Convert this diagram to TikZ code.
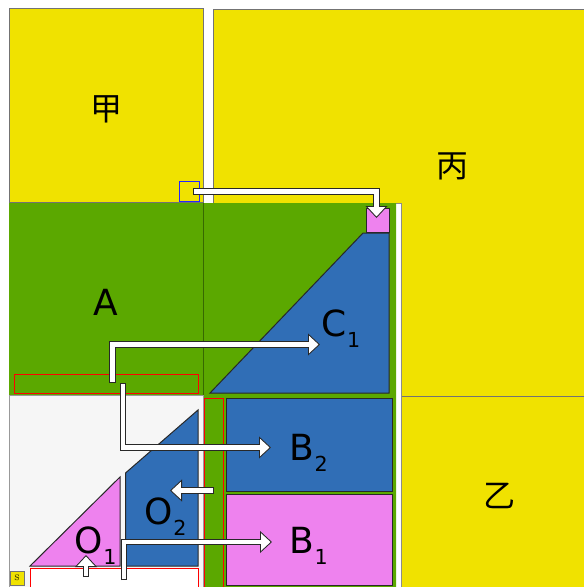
\documentclass[tikz,border=0pt]{standalone}
\usepackage{fontspec}
\setsansfont{DejaVu Sans}
\newfontfamily\cjk{Noto Sans CJK SC}
\usetikzlibrary{arrows.meta,calc}
\definecolor{ylw}{RGB}{240,226,0}
\definecolor{grn}{RGB}{91,168,0}
\definecolor{dgrn}{RGB}{55,105,0}
\definecolor{blu}{RGB}{48,110,182}
\definecolor{pnk}{RGB}{238,130,238}
\definecolor{pale}{RGB}{246,246,246}
\definecolor{edge}{RGB}{40,40,40}
\newcommand{\lblsub}[2]{#1\kern0.5pt\raisebox{-8.5pt}{\fontsize{15.5}{15.5}\selectfont #2}}

\begin{document}
\begin{tikzpicture}[x=0.75pt, y=-0.75pt,
  ybox/.style={fill=ylw, draw=black!55, line width=0.6pt},
  part/.style={draw=edge, line width=0.75pt},
  redbox/.style={draw=red, line width=0.75pt},
  han/.style={font=\cjk\fontsize{24}{24}\selectfont, inner sep=0pt},
  lbl/.style={font=\sffamily\fontsize{27}{27}\selectfont, inner sep=0pt},
  sublbl/.style={lbl, anchor=base west},
  fatout/.style={line width=4.8pt, draw=edge,
                 -{Triangle[length=9pt 0, width=16.5pt 0, fill=white, line width=0.65pt]}},
  fatin/.style={line width=3.3pt, draw=white, shorten <=0.65pt, shorten >=8.2pt}
]
\useasboundingbox[fill=white] (0,0) rectangle (584,587);

% big yellow fields
\draw[ybox] (213,9) rectangle (592,396);
\draw[ybox] (401,396) rectangle (592,592);
\draw[ybox] (9,8) rectangle (203,202);

% frame, green area and free corner
\draw[fill=white, draw=black!45, line width=0.6pt] (9,203) rectangle (401,592);
\fill[grn] (9,203) -- (396,203) -- (396,592) -- (203,592) -- (203,395) -- (9,395) -- cycle;
\draw[dgrn, line width=0.6pt] (203,203) -- (203,395);
\draw[fill=pale, draw=black!40, line width=0.6pt] (9,395) rectangle (203,592);

% red outlines
\draw[redbox] (14,374) rectangle (198,393);
\draw[redbox] (204,398) rectangle (223,592);
\draw[redbox, fill=white] (30,568) rectangle (198,592);

% pieces
\draw[part, fill=blu] (210,393) -- (363,233) -- (389,233) -- (389,393) -- cycle;
\draw[part, fill=pnk] (366,208) rectangle (389,232);
\draw[part, fill=blu] (226,398) rectangle (392,491);
\draw[part, fill=pnk] (226,494) rectangle (392,585);
\draw[part, fill=blu] (125.5,566) -- (125.5,473) -- (198,410) -- (198,566) -- cycle;
\draw[part, fill=pnk] (30,566) -- (120,477) -- (120,566) -- cycle;
\draw[draw=blue!85, line width=0.75pt] (179,181) rectangle (199,201);
\draw[ybox] (10,571) rectangle (24,585);

% labels
\node[han] (jia)  at (106,109) {甲};
\node[han] (bing) at (452,166) {丙};
\node[han] (yi)   at (499,496) {乙};
\node[lbl] (A)  at (106,302) {A};
\node[sublbl] (C1) at (321,336) {\lblsub{C}{1}};
\node[sublbl] (B2) at (289,460) {\lblsub{B}{2}};
\node[sublbl] (B1) at (289,553) {\lblsub{B}{1}};
\node[sublbl] (O2) at (144,524) {\lblsub{O}{2}};
\node[sublbl] (O1) at (74,553)  {\lblsub{O}{1}};
\node[font=\fontsize{6}{6}\selectfont, inner sep=0pt] (S) at (17,578) {S};

% moves
\coordinate (m1s) at (193,191.5);  \coordinate (m1e) at (376.5,218);
\coordinate (m2s) at (112.5,383);  \coordinate (m2e) at (320,344.5);
\coordinate (m3s) at (123,383);    \coordinate (m3e) at (271,447.5);
\coordinate (m4s) at (214,490.5);  \coordinate (m4e) at (170,490.5);
\coordinate (m5s) at (124,580);    \coordinate (m5e) at (272,542);
\coordinate (m6s) at (86,577);     \coordinate (m6e) at (86,555);

\draw[fatout] (m1s) -| (m1e);  \draw[fatin] (m1s) -| (m1e);
\draw[fatout] (m2s) |- (m2e);  \draw[fatin] (m2s) |- (m2e);
\draw[fatout] (m3s) |- (m3e);  \draw[fatin] (m3s) |- (m3e);
\draw[fatout] (m4s) -- (m4e);  \draw[fatin] (m4s) -- (m4e);
\draw[fatout] (m5s) |- (m5e);  \draw[fatin] (m5s) |- (m5e);
\draw[fatout] (m6s) -- (m6e);  \draw[fatin] (m6s) -- (m6e);
\end{tikzpicture}
\end{document}
